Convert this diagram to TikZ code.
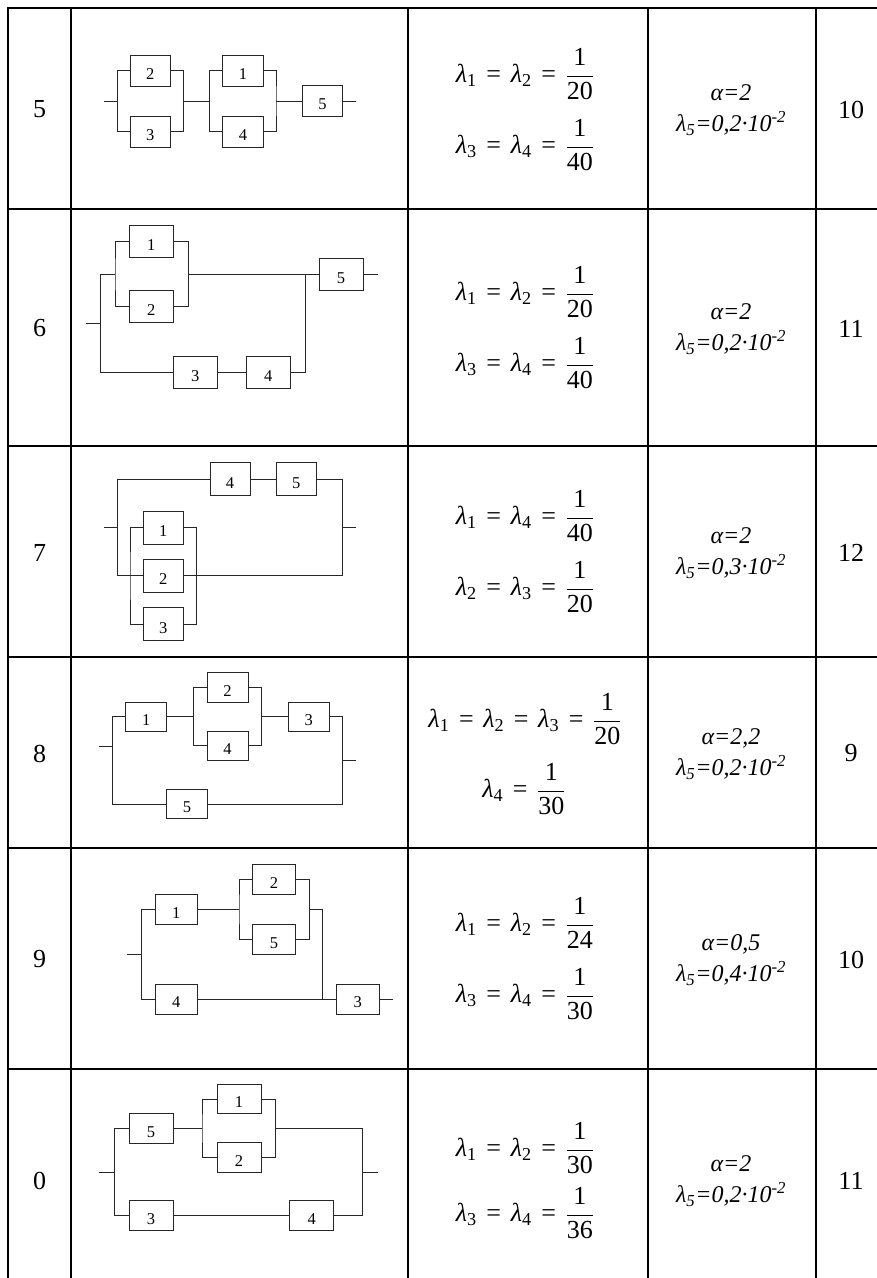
\documentclass[tikz,border=0pt]{standalone}
\usepackage{amsmath}
\usepackage{fontspec}
\setmainfont{Liberation Serif}
\newcommand{\lam}[1]{\textit{λ}_{\text{#1}}}
\newcommand{\myfrac}[2]{\dfrac{\text{#1}}{\text{#2}}}
\newcommand{\EQ}{\mathrel{\text{=}}}
\newcommand{\paramtxt}[2]{α=#1\\λ\textsubscript{5}=0,#2·10\textsuperscript{-2}}
\tikzset{
  grid/.style={line width=1.5pt, black},
  wire/.style={line width=0.9pt, black!85},
  blk/.style={draw=black!85, line width=0.9pt, fill=white, inner sep=0pt,
    text height=17.5pt, text depth=0pt, font=\fontsize{16.5}{16.5}\selectfont},
  numtxt/.style={font=\fontsize{26}{30}\selectfont},
  frm/.style={font=\fontsize{26}{30}\selectfont, inner sep=0pt},
  par/.style={font=\fontsize{24}{31}\selectfont\itshape, align=center, inner sep=0pt}
}
\begin{document}
\begin{tikzpicture}[x=1pt,y=-1pt]
\useasboundingbox (0,0) rectangle (877,1278);
\clip (0,0) rectangle (877,1278);
\fill[white] (0,0) rectangle (877,1278);
% table grid
\draw[grid] (8,1290) -- (8,8) -- (890,8);
\foreach \yy in {209,446,657,848,1069} \draw[grid] (8,\yy) -- (890,\yy);
\foreach \xx in {71,408,648,816} \draw[grid] (\xx,8) -- (\xx,1290);
\thickmuskip=7mu
% first and last column numbers, parameters
\node[numtxt] (n5) at (39.5,109.5) {5};
\node[numtxt] (n6) at (39.5,328.5) {6};
\node[numtxt] (n7) at (39.5,552.5) {7};
\node[numtxt] (n8) at (39.5,753.5) {8};
\node[numtxt] (n9) at (39.5,959.5) {9};
\node[numtxt] (n0) at (39.5,1181) {0};
\node[numtxt] (v5) at (851,109.5) {10};
\node[numtxt] (v6) at (851,328.5) {11};
\node[numtxt] (v7) at (851,552.5) {12};
\node[numtxt] (v8) at (851,753.5) {9};
\node[numtxt] (v9) at (851,959.5) {10};
\node[numtxt] (v0) at (851,1181) {11};
% formulas
\node[frm] (f5a) at (525,74) {$\lam{1}\EQ\lam{2}\EQ\myfrac{1}{20}$};
\node[frm] (f5b) at (525,145) {$\lam{3}\EQ\lam{4}\EQ\myfrac{1}{40}$};
\node[frm] (f6a) at (525,292) {$\lam{1}\EQ\lam{2}\EQ\myfrac{1}{20}$};
\node[frm] (f6b) at (525,363) {$\lam{3}\EQ\lam{4}\EQ\myfrac{1}{40}$};
\node[frm] (f7a) at (525,516) {$\lam{1}\EQ\lam{4}\EQ\myfrac{1}{40}$};
\node[frm] (f7b) at (525,587) {$\lam{2}\EQ\lam{3}\EQ\myfrac{1}{20}$};
\node[frm] (f8a) at (525,719) {$\lam{1}\EQ\lam{2}\EQ\lam{3}\EQ\myfrac{1}{20}$};
\node[frm] (f8b) at (524,789) {$\lam{4}\EQ\myfrac{1}{30}$};
\node[frm] (f9a) at (525,923) {$\lam{1}\EQ\lam{2}\EQ\myfrac{1}{24}$};
\node[frm] (f9b) at (525,994) {$\lam{3}\EQ\lam{4}\EQ\myfrac{1}{30}$};
\node[frm] (f0a) at (525,1148) {$\lam{1}\EQ\lam{2}\EQ\myfrac{1}{30}$};
\node[frm] (f0b) at (525,1213) {$\lam{3}\EQ\lam{4}\EQ\myfrac{1}{36}$};
\node[par] (p5) at (731,110) {\paramtxt{2}{2}};
\node[par] (p6) at (731,329) {\paramtxt{2}{2}};
\node[par] (p7) at (731,553) {\paramtxt{2}{3}};
\node[par] (p8) at (731,754) {\paramtxt{2,2}{2}};
\node[par] (p9) at (731,960) {\paramtxt{0,5}{4}};
\node[par] (p0) at (731,1181) {\paramtxt{2}{2}};
% ---------- row 5
\begin{scope}[blk/.append style={minimum width=40.7pt, minimum height=30.5pt}]
\node[blk] (r5b2) at (150.3,70.7) {2};
\node[blk] (r5b3) at (150.3,131.7) {3};
\node[blk] (r5b1) at (243,70.7) {1};
\node[blk] (r5b4) at (243,131.7) {4};
\node[blk] (r5b5) at (322.5,101) {5};
\coordinate (r5in) at (104,101);
\coordinate (r5a) at (117.3,101);
\coordinate (r5b) at (183.3,101);
\coordinate (r5c) at (209.3,101);
\coordinate (r5d) at (276,101);
\coordinate (r5out) at (355.7,101);
\draw[wire] (r5in) -- (r5a);
\draw[wire] (r5b2.west) -| (r5a) |- (r5b3.west);
\draw[wire] (r5b2.east) -| (r5b) |- (r5b3.east);
\draw[wire] (r5b) -- (r5c);
\draw[wire] (r5b1.west) -| (r5c) |- (r5b4.west);
\draw[wire] (r5b1.east) -| (r5d) |- (r5b4.east);
\draw[wire] (r5d) -- (r5b5.west);
\draw[wire] (r5b5.east) -- (r5out);
\end{scope}
% ---------- row 6
\begin{scope}[blk/.append style={minimum width=44pt, minimum height=32.3pt}]
\node[blk] (r6b1) at (151.3,241.7) {1};
\node[blk] (r6b2) at (151.3,306.7) {2};
\node[blk] (r6b3) at (195.3,372.3) {3};
\node[blk] (r6b4) at (268.2,372.3) {4};
\node[blk] (r6b5) at (341,274.7) {5};
\coordinate (r6in) at (86,323.3);
\coordinate (r6Lm) at (100,323.3);
\coordinate (r6L) at (100,274.7);
\coordinate (r6j1) at (115,274.7);
\coordinate (r6j2) at (188.3,274.7);
\coordinate (r6j3) at (305,274.7);
\coordinate (r6out) at (377.7,274.7);
\draw[wire] (r6in) -- (r6Lm);
\draw[wire] (r6j1) -- (r6L) |- (r6b3.west);
\draw[wire] (r6b1.west) -| (r6j1) |- (r6b2.west);
\draw[wire] (r6b1.east) -| (r6j2) |- (r6b2.east);
\draw[wire] (r6j2) -- (r6b5.west);
\draw[wire] (r6b3.east) -- (r6b4.west);
\draw[wire] (r6b4.east) -| (r6j3);
\draw[wire] (r6b5.east) -- (r6out);
\end{scope}
% ---------- row 7
\begin{scope}[blk/.append style={minimum width=40pt, minimum height=33pt}]
\node[blk] (r7b4) at (230,479.3) {4};
\node[blk] (r7b5) at (296.2,479.3) {5};
\node[blk] (r7b1) at (163.3,527.7) {1};
\node[blk] (r7b2) at (163.3,575.7) {2};
\node[blk] (r7b3) at (163.3,624.3) {3};
\coordinate (r7in) at (104,527.7);
\coordinate (r7L) at (117.3,527.7);
\coordinate (r7R) at (342.3,527.7);
\coordinate (r7out) at (355.7,527.7);
\coordinate (r7iL) at (130,575.7);
\coordinate (r7iR) at (196.7,575.7);
\draw[wire] (r7in) -- (r7L);
\draw[wire] (r7b4.west) -| (r7L) |- (r7b2.west);
\draw[wire] (r7b4.east) -- (r7b5.west);
\draw[wire] (r7b5.east) -| (r7R) |- (r7b2.east);
\draw[wire] (r7R) -- (r7out);
\draw[wire] (r7b1.west) -| (r7iL) |- (r7b3.west);
\draw[wire] (r7b1.east) -| (r7iR) |- (r7b3.east);
\end{scope}
% ---------- row 8
\begin{scope}[blk/.append style={minimum width=41pt, minimum height=29.3pt}]
\node[blk] (r8b1) at (146.2,716.7) {1};
\node[blk] (r8b2) at (227.5,687.3) {2};
\node[blk] (r8b4) at (227.5,745.7) {4};
\node[blk] (r8b3) at (308.8,716.7) {3};
\node[blk] (r8b5) at (187,804) {5};
\coordinate (r8in) at (99,746);
\coordinate (r8Lm) at (112.3,746);
\coordinate (r8m1) at (193.3,716.7);
\coordinate (r8m2) at (261.7,716.7);
\coordinate (r8Rm) at (342.3,760.7);
\coordinate (r8out) at (356,760.7);
\draw[wire] (r8in) -- (r8Lm);
\draw[wire] (r8b1.west) -| (r8Lm) |- (r8b5.west);
\draw[wire] (r8b1.east) -- (r8m1);
\draw[wire] (r8b2.west) -| (r8m1) |- (r8b4.west);
\draw[wire] (r8b2.east) -| (r8m2) |- (r8b4.east);
\draw[wire] (r8m2) -- (r8b3.west);
\draw[wire] (r8b3.east) -| (r8Rm) |- (r8b5.east);
\draw[wire] (r8Rm) -- (r8out);
\end{scope}
% ---------- row 9
\begin{scope}[blk/.append style={minimum width=42.3pt, minimum height=30pt}]
\node[blk] (r9b1) at (176.2,909.3) {1};
\node[blk] (r9b2) at (274,879.3) {2};
\node[blk] (r9b5) at (274,939.3) {5};
\node[blk] (r9b4) at (176.2,999) {4};
\node[blk] (r9b3) at (357.8,999) {3};
\coordinate (r9in) at (127.3,954);
\coordinate (r9Lm) at (141.7,954);
\coordinate (r9m1) at (239,909.3);
\coordinate (r9m2) at (309.3,909.3);
\coordinate (r9Rb) at (322.7,999);
\coordinate (r9out) at (393.3,999);
\draw[wire] (r9in) -- (r9Lm);
\draw[wire] (r9b1.west) -| (r9Lm) |- (r9b4.west);
\draw[wire] (r9b1.east) -- (r9m1);
\draw[wire] (r9b2.west) -| (r9m1) |- (r9b5.west);
\draw[wire] (r9b2.east) -| (r9m2) |- (r9b5.east);
\draw[wire] (r9m2) -| (r9Rb);
\draw[wire] (r9b4.east) -- (r9b3.west);
\draw[wire] (r9b3.east) -- (r9out);
\end{scope}
% ---------- row 0
\begin{scope}[blk/.append style={minimum width=44pt, minimum height=29.3pt}]
\node[blk] (r0b5) at (151,1128.3) {5};
\node[blk] (r0b1) at (239,1099) {1};
\node[blk] (r0b2) at (239,1157.3) {2};
\node[blk] (r0b3) at (151,1215.3) {3};
\node[blk] (r0b4) at (311.7,1215.3) {4};
\coordinate (r0in) at (99.3,1172);
\coordinate (r0Lm) at (114.3,1172);
\coordinate (r0m1) at (202,1128.3);
\coordinate (r0m2) at (275.3,1128.3);
\coordinate (r0Rm) at (362.7,1172);
\coordinate (r0out) at (377.7,1172);
\draw[wire] (r0in) -- (r0Lm);
\draw[wire] (r0b5.west) -| (r0Lm) |- (r0b3.west);
\draw[wire] (r0b5.east) -- (r0m1);
\draw[wire] (r0b1.west) -| (r0m1) |- (r0b2.west);
\draw[wire] (r0b1.east) -| (r0m2) |- (r0b2.east);
\draw[wire] (r0m2) -| (r0Rm) |- (r0b4.east);
\draw[wire] (r0b3.east) -- (r0b4.west);
\draw[wire] (r0Rm) -- (r0out);
\end{scope}
\end{tikzpicture}
\end{document}
